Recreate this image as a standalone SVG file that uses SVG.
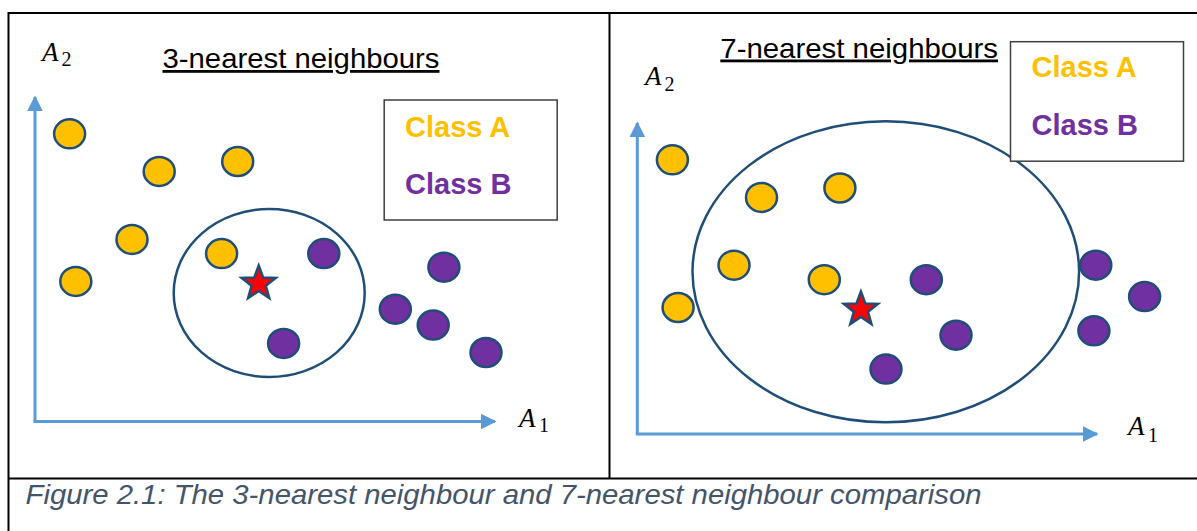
<svg xmlns="http://www.w3.org/2000/svg" width="1197" height="531" viewBox="0 0 1197 531">
  <style>
    .frame { stroke: #000; stroke-width: 2; fill: none; }
    .axis { stroke: #5B9BD5; stroke-width: 3; fill: none; }
    .ptA { fill: #FFC000; stroke: #1F4E79; stroke-width: 2.5; }
    .ptB { fill: #7030A0; stroke: #1F4E79; stroke-width: 2.5; }
    .ring { fill: none; stroke: #1F4E79; stroke-width: 2.5; }
    .star { fill: #FF0000; stroke: #1F4E79; stroke-width: 2.5; stroke-linejoin: miter; }
    .legend { fill: #fff; stroke: #3F3F3F; stroke-width: 1.5; }
    .title { font-family: "Liberation Sans", Arial, sans-serif; font-size: 28px; fill: #000; text-decoration: underline; }
    .cls { font-family: "Liberation Sans", Arial, sans-serif; font-size: 29px; font-weight: bold; }
    .var { font-family: "Liberation Serif", "DejaVu Serif", serif; font-style: italic; font-size: 27px; fill: #000; }
    .sub { font-family: "Liberation Serif", "DejaVu Serif", serif; font-size: 20px; fill: #000; }
    .caption { font-family: "Liberation Sans", Arial, sans-serif; font-style: italic; font-size: 28px; fill: #44546A; }
  </style>
  <defs>
    <marker id="arrow" viewBox="0 0 10 10" refX="9" refY="5" markerWidth="5.2" markerHeight="5.2" markerUnits="strokeWidth" orient="auto">
      <path d="M0,0 L10,5 L0,10 Z" fill="#5B9BD5"/>
    </marker>
    <polygon id="starShape" points="0,-18 4.41,-6.07 17.12,-5.56 7.13,2.32 10.58,14.56 0,7.5 -10.58,14.56 -7.13,2.32 -17.12,-5.56 -4.41,-6.07"/>
  </defs>

  <rect width="1197" height="531" fill="#fff"/>

  <!-- table frame -->
  <g id="frame">
    <line class="frame" x1="8" y1="13" x2="1197" y2="13"/>
    <line class="frame" x1="8" y1="478.5" x2="1197" y2="478.5"/>
    <line class="frame" x1="8.5" y1="12" x2="8.5" y2="531"/>
    <line class="frame" x1="609.5" y1="13" x2="609.5" y2="478.5"/>
  </g>

  <!-- axes -->
  <g id="connectors">
    <line class="axis" x1="35" y1="421.5" x2="35" y2="97" marker-end="url(#arrow)"/>
    <line class="axis" x1="33.5" y1="421.5" x2="495" y2="421.5" marker-end="url(#arrow)"/>
    <line class="axis" x1="637.3" y1="434" x2="637.3" y2="123" marker-end="url(#arrow)"/>
    <line class="axis" x1="635.8" y1="434" x2="1097" y2="434" marker-end="url(#arrow)"/>
  </g>

  <!-- left panel: k = 3 -->
  <g id="title-k3"><text class="title" x="162.5" y="68" textLength="277" lengthAdjust="spacingAndGlyphs">3-nearest neighbours</text></g>
  <g id="label-a2-k3"><text x="42" y="61"><tspan class="var">A</tspan><tspan class="sub" x="61.5" y="65.5">2</tspan></text></g>
  <g id="label-a1-k3"><text x="519" y="427"><tspan class="var">A</tspan><tspan class="sub" x="539" y="432">1</tspan></text></g>
  <g id="legend-k3">
    <rect class="legend" x="384.2" y="100" width="173" height="120"/>
    <text class="cls" x="405" y="137" fill="#FFC000">Class A</text>
    <text class="cls" x="405" y="194" fill="#7030A0">Class B</text>
  </g>
  <g id="radius-k3"><ellipse class="ring" cx="269.2" cy="293" rx="95.5" ry="84"/></g>
  <g id="points-k3">
    <ellipse class="ptA" cx="69.6" cy="133.8" rx="15.5" ry="14.5"/>
    <ellipse class="ptA" cx="159.2" cy="171.4" rx="15.5" ry="14.5"/>
    <ellipse class="ptA" cx="237.7" cy="161.5" rx="15.5" ry="14.5"/>
    <ellipse class="ptA" cx="132" cy="239.4" rx="15.5" ry="14.5"/>
    <ellipse class="ptA" cx="75.8" cy="281.4" rx="15.5" ry="14.5"/>
    <ellipse class="ptA" cx="221.6" cy="253.6" rx="15.5" ry="14.5"/>
    <ellipse class="ptB" cx="323.8" cy="253.6" rx="15.5" ry="14.5"/>
    <ellipse class="ptB" cx="283.6" cy="343.4" rx="15.5" ry="14.5"/>
    <ellipse class="ptB" cx="443.9" cy="267.2" rx="15.5" ry="14.5"/>
    <ellipse class="ptB" cx="395.3" cy="309.2" rx="15.5" ry="14.5"/>
    <ellipse class="ptB" cx="433.2" cy="325.1" rx="15.5" ry="14.5"/>
    <ellipse class="ptB" cx="486" cy="352.5" rx="15.5" ry="14.5"/>
  </g>
  <g id="query-k3"><use href="#starShape" class="star" x="258.7" y="283.5"/></g>

  <!-- right panel: k = 7 -->
  <g id="title-k7"><text class="title" x="720.3" y="57.5" textLength="277.7" lengthAdjust="spacingAndGlyphs">7-nearest neighbours</text></g>
  <g id="label-a2-k7"><text x="645" y="84.5"><tspan class="var">A</tspan><tspan class="sub" x="664.5" y="90.5">2</tspan></text></g>
  <g id="label-a1-k7"><text x="1128" y="435"><tspan class="var">A</tspan><tspan class="sub" x="1148" y="441.5">1</tspan></text></g>
  <g id="radius-k7"><ellipse class="ring" cx="885.8" cy="271.8" rx="193.3" ry="150.5"/></g>
  <g id="legend-k7">
    <rect class="legend" x="1010.5" y="41.7" width="173" height="119.5"/>
    <text class="cls" x="1031.5" y="77.2" fill="#FFC000">Class A</text>
    <text class="cls" x="1031.5" y="134.8" fill="#7030A0">Class B</text>
  </g>
  <g id="points-k7">
    <ellipse class="ptA" cx="672.4" cy="159.8" rx="15.5" ry="14.5"/>
    <ellipse class="ptA" cx="761.5" cy="197.4" rx="15.5" ry="14.5"/>
    <ellipse class="ptA" cx="839.9" cy="188" rx="15.5" ry="14.5"/>
    <ellipse class="ptA" cx="734" cy="265.2" rx="15.5" ry="14.5"/>
    <ellipse class="ptA" cx="678.1" cy="307.5" rx="15.5" ry="14.5"/>
    <ellipse class="ptA" cx="824.3" cy="279.7" rx="15.5" ry="14.5"/>
    <ellipse class="ptB" cx="926.3" cy="279.7" rx="15.5" ry="14.5"/>
    <ellipse class="ptB" cx="956" cy="335.2" rx="15.5" ry="14.5"/>
    <ellipse class="ptB" cx="886" cy="369.1" rx="15.5" ry="14.5"/>
    <ellipse class="ptB" cx="1095.8" cy="265.2" rx="15.5" ry="14.5"/>
    <ellipse class="ptB" cx="1144.6" cy="296.6" rx="15.5" ry="14.5"/>
    <ellipse class="ptB" cx="1093.9" cy="330.8" rx="15.5" ry="14.5"/>
  </g>
  <g id="query-k7"><use href="#starShape" class="star" x="860.9" y="309.5"/></g>

  <!-- caption -->
  <g id="caption"><text class="caption" x="25.5" y="504" textLength="956" lengthAdjust="spacingAndGlyphs">Figure 2.1: The 3-nearest neighbour and 7-nearest neighbour comparison</text></g>
</svg>
